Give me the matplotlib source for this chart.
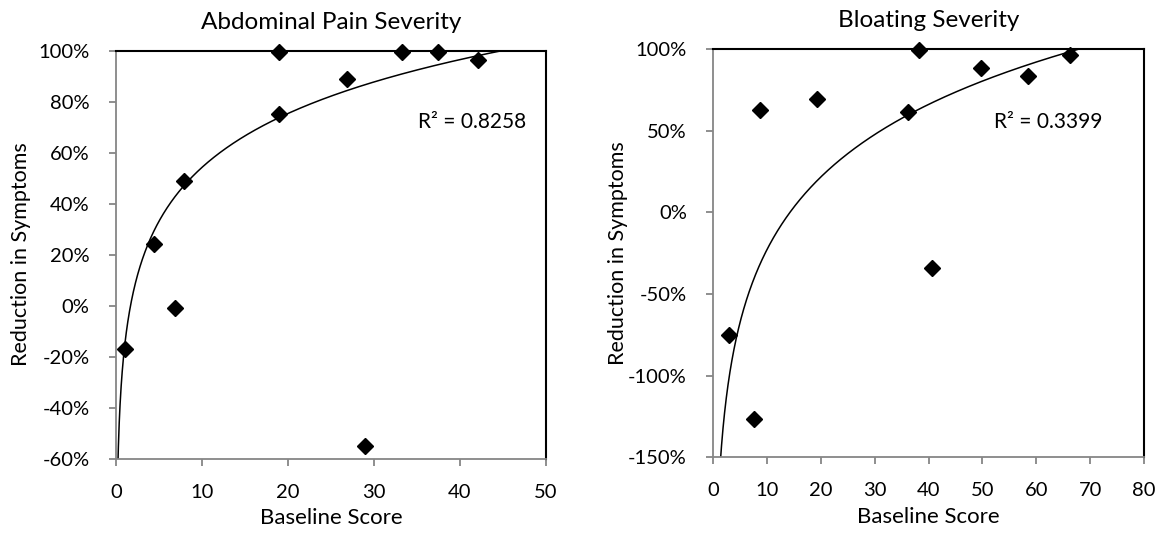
import numpy as np
import matplotlib
matplotlib.use("Agg")
import matplotlib.pyplot as plt
from matplotlib.ticker import FuncFormatter, MultipleLocator

plt.rcParams['font.family'] = ['Lato', 'DejaVu Sans']

# ---- data: Abdominal Pain Severity ----
pain_baseline = [1.0, 4.45, 6.85, 7.9, 19.0, 19.0, 26.9, 28.9, 33.2, 37.4, 42.1]
pain_reduction = [-0.17, 0.24, -0.01, 0.49, 0.75, 0.995, 0.888, -0.551, 0.995, 0.995, 0.965]
pain_trend_a, pain_trend_b = 0.305, -0.16      # y = a*ln(x) + b
pain_r2 = "R\u00b2 = 0.8258"

# ---- data: Bloating Severity ----
bloat_baseline = [2.9, 7.6, 8.7, 19.2, 36.1, 38.2, 40.7, 49.75, 58.4, 66.2]
bloat_reduction = [-0.754, -1.264, 0.626, 0.691, 0.614, 0.994, -0.339, 0.882, 0.836, 0.963]
bloat_trend_a, bloat_trend_b = 0.64, -1.70
bloat_r2 = "R\u00b2 = 0.3399"

fig = plt.figure(figsize=(11.70, 5.33), dpi=100)

W, H = 1170, 533
def add_ax(x0, x1, ytop, ybot):
    return fig.add_axes([x0 / W, 1 - ybot / H, (x1 - x0) / W, (ybot - ytop) / H])

ax1 = add_ax(116, 546, 50.7, 458.5)
ax2 = add_ax(713.3, 1144, 49, 457.3)

pct = FuncFormatter(lambda v, p: f"{int(round(v * 100))}%")

def style(ax, xmax, ymin, ymax, ystep, title):
    ax.set_xlim(0, xmax)
    ax.set_ylim(ymin, ymax)
    ax.xaxis.set_major_locator(MultipleLocator(10))
    ax.yaxis.set_major_locator(MultipleLocator(ystep))
    ax.yaxis.set_major_formatter(pct)
    for s in ('left', 'bottom'):
        ax.spines[s].set_color('#868686')
        ax.spines[s].set_linewidth(1.3)
    for s in ('top', 'right'):
        ax.spines[s].set_color('black')
        ax.spines[s].set_linewidth(1.5)
    ax.tick_params(axis='both', which='major', direction='out', length=5,
                   width=1.3, color='#868686', labelsize=14.5, labelcolor='black')
    ax.tick_params(axis='y', pad=14)
    ax.tick_params(axis='x', pad=13)
    hpx = ax.get_position().height * H
    ax.set_xlabel("Baseline Score", fontsize=16, va='center')
    ax.xaxis.set_label_coords(0.5, -59.5 / hpx)
    ax.set_ylabel("Reduction in Symptoms", fontsize=15.5, va='center')
    ax.yaxis.set_label_coords(-0.222, 0.5)
    ax.set_title(title, fontsize=17.5, va='center', pad=0,
                 y=1 + 28.5 / hpx)

def draw(ax, xs, ys, a, b, xmax, r2, tx, ty):
    xt = np.linspace(0.05, xmax, 2000)
    ax.plot(xt, a * np.log(xt) + b, color='black', lw=1.1, zorder=2)
    ax.plot(xs, ys, linestyle='none', marker='D', markersize=8.6,
            color='black', clip_on=False, zorder=3)
    ax.text(tx, ty, r2, transform=ax.transAxes, fontsize=15,
            ha='left', va='center')

style(ax1, 50, -0.6, 1.0, 0.2, "Abdominal Pain Severity")
draw(ax1, pain_baseline, pain_reduction, pain_trend_a, pain_trend_b, 50,
     pain_r2, 0.703, 0.826)

style(ax2, 80, -1.5, 1.0, 0.5, "Bloating Severity")
draw(ax2, bloat_baseline, bloat_reduction, bloat_trend_a, bloat_trend_b, 80,
     bloat_r2, 0.652, 0.822)

fig.savefig("out.png", dpi=100, facecolor='white')
